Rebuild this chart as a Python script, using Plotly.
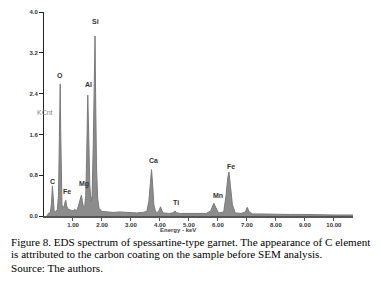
import plotly.graph_objects as go

# Spectrum (energy in keV, counts in KCnt)
energy = [0.10, 0.15, 0.22, 0.26, 0.29, 0.32, 0.35, 0.40, 0.46, 0.50, 0.53, 0.545, 0.56, 0.575, 0.59,
          0.62, 0.66, 0.70, 0.73, 0.75, 0.78, 0.82, 0.90, 1.00, 1.06, 1.12, 1.18, 1.24, 1.29, 1.32,
          1.36, 1.40, 1.44, 1.47, 1.49, 1.51, 1.54, 1.58, 1.62, 1.66, 1.70, 1.73, 1.76, 1.78, 1.81,
          1.85, 1.90, 2.00, 2.20, 2.40, 2.60, 2.80, 3.00, 3.20, 3.40, 3.55, 3.62, 3.67, 3.71, 3.75,
          3.79, 3.85, 3.92, 3.98, 4.02, 4.06, 4.12, 4.30, 4.45, 4.52, 4.58, 4.70, 5.00, 5.30, 5.60,
          5.75, 5.86, 5.93, 6.02, 6.20, 6.28, 6.34, 6.38, 6.43, 6.50, 6.60, 6.80, 6.95, 7.01, 7.08,
          7.20, 7.50, 8.00, 8.50, 9.00, 9.50, 10.00, 10.50, 10.66]
counts = [0.00, 0.05, 0.07, 0.25, 0.59, 0.28, 0.10, 0.09, 0.12, 0.40, 1.20, 1.75, 2.59, 1.70, 0.80,
          0.22, 0.16, 0.20, 0.28, 0.31, 0.20, 0.14, 0.12, 0.10, 0.13, 0.10, 0.18, 0.32, 0.41, 0.30,
          0.18, 0.16, 0.40, 1.10, 1.75, 2.37, 1.65, 0.60, 0.28, 0.40, 1.40, 2.42, 3.53, 2.40, 1.00,
          0.35, 0.15, 0.09, 0.08, 0.07, 0.08, 0.07, 0.07, 0.06, 0.07, 0.09, 0.30, 0.65, 0.91, 0.60,
          0.22, 0.08, 0.07, 0.12, 0.18, 0.11, 0.06, 0.05, 0.06, 0.10, 0.06, 0.05, 0.05, 0.04, 0.05,
          0.10, 0.25, 0.16, 0.06, 0.08, 0.40, 0.75, 0.86, 0.60, 0.22, 0.06, 0.05, 0.08, 0.17, 0.08,
          0.04, 0.04, 0.03, 0.03, 0.03, 0.02, 0.02, 0.02, 0.02]

# Element labels
elements = ["C", "O", "Fe", "Mg", "Al", "Si", "Ca", "Ti", "Mn", "Fe"]
label_x = [0.31, 0.56, 0.78, 1.37, 1.54, 1.79, 3.77, 4.54, 5.99, 6.44]
label_y = [0.68, 2.76, 0.48, 0.63, 2.57, 3.81, 1.08, 0.26, 0.40, 0.97]

x_ticks = [1, 2, 3, 4, 5, 6, 7, 8, 9, 10]
x_ticktext = ["1.00", "2.00", "3.00", "4.00", "5.00", "6.00", "7.00", "8.00", "9.00", "10.00"]
y_ticks = [0.0, 0.8, 1.6, 2.4, 3.2, 4.0]

caption_lines = [
    "Figure 8. EDS spectrum of spessartine-type garnet. The appearance of C element",
    "is attributed to the carbon coating on the sample before SEM analysis.",
    "Source: The authors.",
]

# The page body adds an 8 px offset; lay out in screen pixels minus that offset
OFF = 8
W, H = 381 - OFF, 284 - OFF
L, T = 44 - OFF, 12 - OFF
R = W - (353 - OFF)
B = H - (216 - OFF)
pw = W - L - R
ph = H - T - B


def px(screen_x):
    return (screen_x - OFF - L) / pw


def py(screen_y):
    return (H - B - (screen_y - OFF)) / ph


fig = go.Figure()
fig.add_trace(go.Scatter(x=energy, y=counts, mode="lines", fill="tozeroy",
                         line=dict(color="#7a7a7a", width=1), fillcolor="#8c8c8c",
                         hoverinfo="skip"))

for name, xv, yv in zip(elements, label_x, label_y):
    fig.add_annotation(x=xv, y=yv, text=name, showarrow=False, xref="x", yref="y",
                       font=dict(family="Liberation Sans", size=7, color="#333333", weight="bold"))

fig.add_annotation(x=px(35), y=py(112), xref="paper", yref="paper", text="KCnt",
                   showarrow=False, font=dict(family="Liberation Sans", size=7, color="#888888"))
fig.add_annotation(x=px(178), y=py(230), xref="paper", yref="paper", text="Energy - keV",
                   showarrow=False, yanchor="middle",
                   font=dict(family="Liberation Sans", size=6, color="#444444", weight="bold"))

cap_y = [242, 254, 268]
for line, yy in zip(caption_lines, cap_y):
    fig.add_annotation(x=px(8.5), y=py(yy), xref="paper", yref="paper", text=line,
                       showarrow=False, xanchor="left", yanchor="middle",
                       font=dict(family="Liberation Serif", size=11.1, color="#000000"))

fig.update_layout(
    width=W, height=H, margin=dict(l=L, r=R, t=T, b=B),
    plot_bgcolor="white", paper_bgcolor="white", showlegend=False,
    xaxis=dict(range=[0, 10.66], tickvals=x_ticks, ticktext=x_ticktext, showgrid=False,
               zeroline=False, showline=True, linecolor="#555555", linewidth=2,
               ticks="outside", ticklen=3, tickcolor="#555555", ticklabelstandoff=-1,
               automargin=False,
               tickfont=dict(family="Liberation Sans", size=6, color="#333333", weight="bold")),
    yaxis=dict(range=[0, 4.0], tickvals=y_ticks, tickformat=".1f", showgrid=False,
               zeroline=False, showline=True, linecolor="#222222", linewidth=1,
               ticks="outside", ticklen=4, tickcolor="#222222", automargin=False,
               tickfont=dict(family="Liberation Sans", size=6, color="#333333", weight="bold")),
)

fig.write_html("out.html")
